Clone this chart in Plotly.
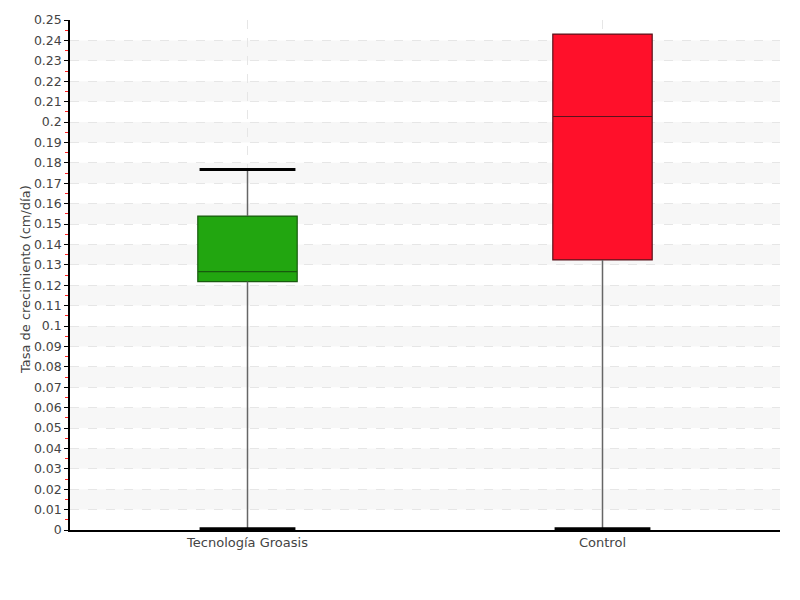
import plotly.graph_objects as go

# ---- data ----
categories = ["Tecnología Groasis", "Control"]
lower_whisker = [0.0006, 0.0006]
q1_vals = [0.1218, 0.1324]
median_vals = [0.1267, 0.2027]
q3_vals = [0.1539, 0.2431]
upper_whisker = [0.1767, 0.2431]
fill_colors = ["rgb(34,166,16)", "rgb(255,16,42)"]
edge_colors = ["rgb(24,90,14)", "rgb(90,20,28)"]
y_ticks = [round(i * 0.01, 2) for i in range(26)]
y_ticktext = [("%g" % v) for v in y_ticks]
y_title = "Tasa de crecimiento (cm/día)"

FONT = "DejaVu Sans, sans-serif"
BOX_W = 0.28
CAP_HALF = 0.135

fig = go.Figure()

# whisker stems (drawn first so they sit below the boxes)
wx, wy = [], []
for i in range(len(categories)):
    wx += [i, i, None, i, i, None]
    wy += [lower_whisker[i], q1_vals[i], None, q3_vals[i], upper_whisker[i], None]
fig.add_trace(go.Scatter(x=wx, y=wy, mode="lines", line=dict(color="#666666", width=1.5),
                         hoverinfo="skip", showlegend=False))

# caps
cx, cy = [], []
for i in range(len(categories)):
    for v in (lower_whisker[i], upper_whisker[i]):
        if v in (q1_vals[i], q3_vals[i]):
            continue
        cx += [i - CAP_HALF, i + CAP_HALF, None]
        cy += [v, v, None]
fig.add_trace(go.Scatter(x=cx, y=cy, mode="lines", line=dict(color="black", width=3),
                         hoverinfo="skip", showlegend=False))

for i, name in enumerate(categories):
    fig.add_trace(go.Box(
        x=[i], q1=[q1_vals[i]], median=[median_vals[i]], q3=[q3_vals[i]],
        lowerfence=[q1_vals[i]], upperfence=[q3_vals[i]],
        width=BOX_W, whiskerwidth=0, fillcolor=fill_colors[i],
        line=dict(color=edge_colors[i], width=1.2), boxpoints=False,
        name=name, showlegend=False,
    ))

# alternating bands
shapes = []
for k in range(1, 25, 2):
    shapes.append(dict(type="rect", xref="paper", yref="y", x0=0, x1=1,
                       y0=y_ticks[k], y1=y_ticks[k + 1], fillcolor="#f7f7f7",
                       line=dict(width=0), layer="below"))

fig.update_layout(
    width=792, height=592,
    margin=dict(l=62, r=20, t=12, b=70, autoexpand=False),
    paper_bgcolor="white", plot_bgcolor="white",
    font=dict(family=FONT, size=13, color="#444444"),
    shapes=shapes,
    annotations=[dict(text=y_title, xref="paper", yref="paper", x=0, y=0.49,
                      xanchor="center", yanchor="middle", xshift=-45, textangle=-90,
                      showarrow=False, font=dict(size=13, color="#444444"))],
    xaxis=dict(
        range=[-0.5, 1.5], tickvals=list(range(len(categories))), ticktext=categories,
        showline=True, linecolor="black", linewidth=1.5, ticks="",
        showgrid=True, gridcolor="#e6e6e6", griddash="dash", gridwidth=1,
        zeroline=False, tickfont=dict(size=13, color="#444444"),
    ),
    yaxis=dict(
        range=[0, 0.25], tickvals=y_ticks, ticktext=y_ticktext,
        showline=True, linecolor="black", linewidth=1.5,
        ticks="outside", ticklen=4, tickcolor="black", tickwidth=1,
        showgrid=True, gridcolor="#e6e6e6", griddash="dash", gridwidth=1,
        zeroline=False, tickfont=dict(size=12.5, color="#444444"),
        minor=dict(dtick=0.005, tick0=0.005, ticks="outside", ticklen=3,
                   tickcolor="#ff2020", showgrid=False),
    ),
)

fig.write_html("out.html")
